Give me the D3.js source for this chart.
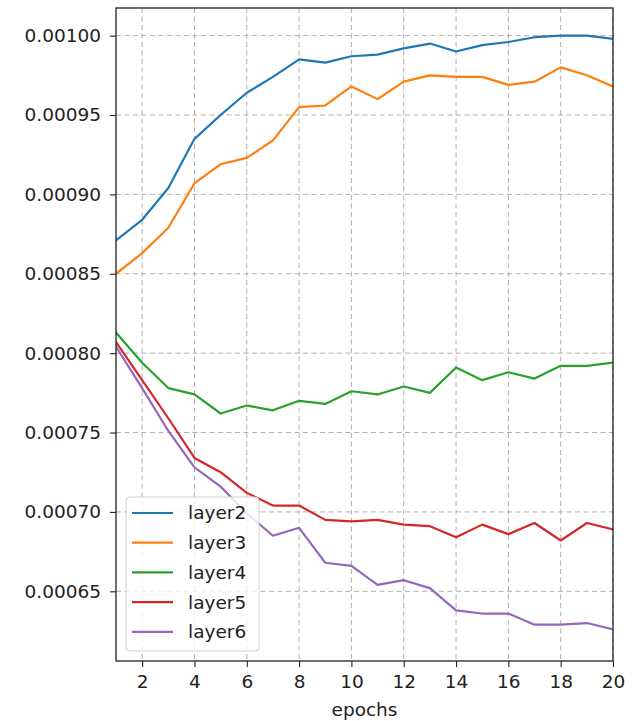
<!DOCTYPE html>
<html>
<head>
<meta charset="utf-8">
<script src="https://cdn.jsdelivr.net/npm/d3@7"></script>
<style>
  html, body { margin: 0; padding: 0; background: #fff; }
  svg { display: block; }
  text { font-family: "DejaVu Sans", sans-serif; fill: #222; }
</style>
</head>
<body>
<svg id="chart" width="636" height="721"></svg>
<script>
// epochs 1..20
const epochs = d3.range(1, 21);

const layer2 = [0.000871, 0.000884, 0.000904, 0.000935, 0.000950, 0.000964, 0.000974, 0.000985, 0.000983, 0.000987,
                0.000988, 0.000992, 0.000995, 0.000990, 0.000994, 0.000996, 0.000999, 0.001000, 0.001000, 0.000998];
const layer3 = [0.000850, 0.000863, 0.000879, 0.000907, 0.000919, 0.000923, 0.000934, 0.000955, 0.000956, 0.000968,
                0.000960, 0.000971, 0.000975, 0.000974, 0.000974, 0.000969, 0.000971, 0.000980, 0.000975, 0.000968];
const layer4 = [0.000813, 0.000794, 0.000778, 0.000774, 0.000762, 0.000767, 0.000764, 0.000770, 0.000768, 0.000776,
                0.000774, 0.000779, 0.000775, 0.000791, 0.000783, 0.000788, 0.000784, 0.000792, 0.000792, 0.000794];
const layer5 = [0.000807, 0.000783, 0.000759, 0.000734, 0.000725, 0.000712, 0.000704, 0.000704, 0.000695, 0.000694,
                0.000695, 0.000692, 0.000691, 0.000684, 0.000692, 0.000686, 0.000693, 0.000682, 0.000693, 0.000689];
const layer6 = [0.000804, 0.000778, 0.000751, 0.000728, 0.000716, 0.000699, 0.000685, 0.000690, 0.000668, 0.000666,
                0.000654, 0.000657, 0.000652, 0.000638, 0.000636, 0.000636, 0.000629, 0.000629, 0.000630, 0.000626];

const seriesNames = ["layer2", "layer3", "layer4", "layer5", "layer6"];
const seriesValues = [layer2, layer3, layer4, layer5, layer6];
const colors = ["#1f77b4", "#ff7f0e", "#2ca02c", "#d62728", "#9467bd"];

const xTicks = [2, 4, 6, 8, 10, 12, 14, 16, 18, 20];
const yTicks = [0.00065, 0.00070, 0.00075, 0.00080, 0.00085, 0.00090, 0.00095, 0.00100];
const xLabel = "epochs";

// plot box
const plotL = 116, plotR = 613, plotT = 8, plotB = 661;
const fontSize = "18.5px";

const svg = d3.select("#chart");

const x = d3.scaleLinear().domain([1, 20]).range([plotL, plotR]);
const y = d3.scaleLinear().domain([0.0006061, 0.0010174]).range([plotB, plotT]);

// grid
const grid = svg.append("g").attr("stroke", "#b0b0b0").attr("stroke-width", 1)
  .attr("stroke-dasharray", "5,3.5");
grid.selectAll("line.gx").data(xTicks).join("line")
  .attr("class", "gx")
  .attr("x1", d => x(d)).attr("x2", d => x(d))
  .attr("y1", plotT).attr("y2", plotB);
grid.selectAll("line.gy").data(yTicks).join("line")
  .attr("class", "gy")
  .attr("x1", plotL).attr("x2", plotR)
  .attr("y1", d => y(d)).attr("y2", d => y(d));

// series
const line = d3.line().x((d, i) => x(epochs[i])).y(d => y(d));
svg.append("clipPath").attr("id", "plotclip")
  .append("rect").attr("x", plotL).attr("y", plotT).attr("width", plotR - plotL).attr("height", plotB - plotT);
svg.append("g").attr("clip-path", "url(#plotclip)")
  .selectAll("path").data(seriesValues).join("path")
  .attr("d", d => line(d))
  .attr("fill", "none")
  .attr("stroke", (d, i) => colors[i])
  .attr("stroke-width", 2.2)
  .attr("stroke-linejoin", "round")
  .attr("stroke-linecap", "square");

// axes
const xAxis = d3.axisBottom(x).tickValues(xTicks).tickSize(6).tickPadding(8).tickFormat(d3.format("d"));
const yAxis = d3.axisLeft(y).tickValues(yTicks).tickSize(6).tickPadding(9).tickFormat(d3.format(".5f"));

const gx = svg.append("g").attr("transform", `translate(0,${plotB})`).call(xAxis);
const gy = svg.append("g").attr("transform", `translate(${plotL},0)`).call(yAxis);
[gx, gy].forEach(g => {
  g.select(".domain").remove();
  g.selectAll(".tick line").attr("stroke", "#222").attr("stroke-width", 1.1);
  g.selectAll(".tick text").attr("font-size", fontSize).attr("fill", "#222")
    .attr("font-family", "DejaVu Sans, sans-serif");
});

// frame
svg.append("rect")
  .attr("x", plotL).attr("y", plotT)
  .attr("width", plotR - plotL).attr("height", plotB - plotT)
  .attr("fill", "none").attr("stroke", "#222").attr("stroke-width", 1.3);

// x label
svg.append("text")
  .attr("x", (plotL + plotR) / 2).attr("y", 716)
  .attr("text-anchor", "middle")
  .attr("font-size", fontSize)
  .text(xLabel);

// legend
const lg = svg.append("g");
lg.append("rect")
  .attr("x", 126).attr("y", 497).attr("width", 133).attr("height", 154)
  .attr("rx", 4).attr("ry", 4)
  .attr("fill", "#fff").attr("fill-opacity", 0.8)
  .attr("stroke", "#d0d0d0").attr("stroke-width", 1);
const items = lg.selectAll("g.item").data(seriesNames).join("g")
  .attr("class", "item")
  .attr("transform", (d, i) => `translate(0,${513 + i * 29.7})`);
items.append("line")
  .attr("x1", 132).attr("x2", 173).attr("y1", 0).attr("y2", 0)
  .attr("stroke", (d, i) => colors[i]).attr("stroke-width", 2.2);
items.append("text")
  .attr("x", 188).attr("y", 0).attr("dy", "0.35em")
  .attr("font-size", fontSize)
  .text(d => d);
</script>
</body>
</html>
